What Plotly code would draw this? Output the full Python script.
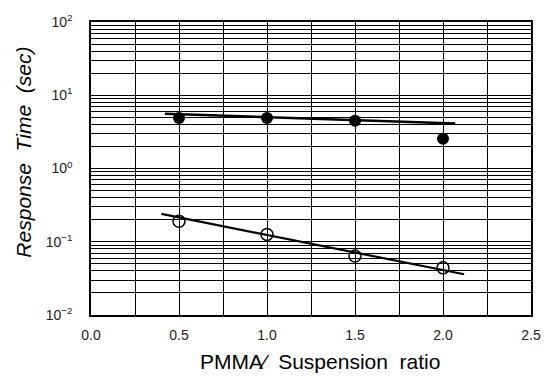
import plotly.graph_objects as go

ratio = [0.5, 1.0, 1.5, 2.0]
filled_time = [4.9, 4.9, 4.5, 2.55]
open_time = [0.19, 0.126, 0.064, 0.044]

filled_fit_x = [0.42, 2.07]
filled_fit_y = [5.6, 4.1]
open_fit_x = [0.40, 2.12]
open_fit_y = [0.24, 0.036]

x_ticks = [0.0, 0.5, 1.0, 1.5, 2.0, 2.5]
x_tick_text = ["0.0", "0.5", "1.0", "1.5", "2.0", "2.5"]
y_ticks = [0.01, 0.1, 1, 10, 100]
y_tick_text = ["10<sup>\u22122</sup>", "10<sup>\u22121</sup>", "10<sup>0</sup>", "10<sup>1</sup>", "10<sup>2</sup>"]

x_title = "PMMA\u2044\u00a0 Suspension\u00a0 ratio"
y_title = "<i>Response\u00a0 Time\u00a0 (sec)</i>"

fig = go.Figure()
fig.add_trace(go.Scatter(x=filled_fit_x, y=filled_fit_y, mode="lines",
                         line=dict(color="black", width=2.5), showlegend=False))
fig.add_trace(go.Scatter(x=open_fit_x, y=open_fit_y, mode="lines",
                         line=dict(color="black", width=2.2), showlegend=False))
fig.add_trace(go.Scatter(x=ratio, y=filled_time, mode="markers",
                         marker=dict(symbol="circle", size=12, color="black"), showlegend=False))
fig.add_trace(go.Scatter(x=ratio, y=open_time, mode="markers",
                         marker=dict(symbol="circle-open", size=12, color="black",
                                     line=dict(width=1.5, color="black")), showlegend=False))

font_family = "Liberation Sans, Arial, Helvetica, sans-serif"
fig.update_layout(
    width=553, height=378,
    margin=dict(l=91, r=15, t=21, b=63),
    paper_bgcolor="white", plot_bgcolor="white",
    font=dict(family=font_family, color="black", size=12),
    xaxis=dict(
        range=[0, 2.5], tickvals=x_ticks, ticktext=x_tick_text,
        showgrid=True, gridcolor="black", gridwidth=1.2,
        minor=dict(dtick=0.25, showgrid=True, gridcolor="black", gridwidth=1.2),
        showline=True, linecolor="black", linewidth=1.5, mirror=True,
        zeroline=False, ticks="", tickfont=dict(size=14, color="#222"),
        ticklabelstandoff=6,
    ),
    yaxis=dict(
        type="log", range=[-2, 2], tickvals=y_ticks, ticktext=y_tick_text,
        showgrid=True, gridcolor="black", gridwidth=1.2,
        minor=dict(dtick="D1", showgrid=True, gridcolor="black", gridwidth=0.8),
        showline=True, linecolor="black", linewidth=1.5, mirror=True,
        zeroline=False, ticks="", tickfont=dict(size=14, color="#222"),
        ticklabelstandoff=14,
    ),
    annotations=[
        dict(text=x_title, xref="paper", yref="paper", x=(324 - 91) / 447, y=-(362 - 315) / 294,
             xanchor="center", yanchor="middle", showarrow=False, font=dict(size=21)),
        dict(text=y_title, xref="paper", yref="paper", x=-(91 - 22) / 447, y=(315 - 152) / 294,
             xanchor="center", yanchor="middle", showarrow=False, textangle=-90, font=dict(size=21)),
    ],
)

fig.write_html("out.html")
